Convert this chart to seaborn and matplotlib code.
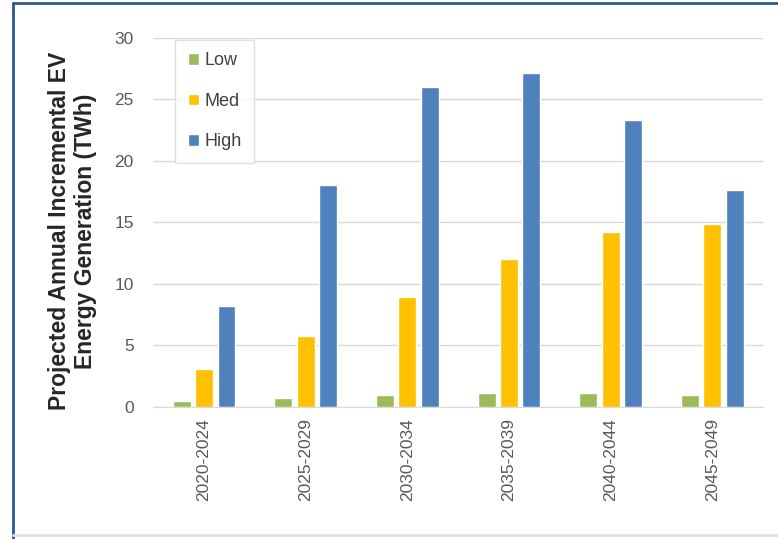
import pandas as pd
import matplotlib.pyplot as plt
import seaborn as sns
from matplotlib.lines import Line2D

# Data
periods = ['2020-2024', '2025-2029', '2030-2034', '2035-2039', '2040-2044', '2045-2049']
low = [0.5, 0.75, 1.0, 1.1, 1.1, 1.0]
med = [3.1, 5.8, 8.9, 12.0, 14.2, 14.9]
high = [8.2, 18.0, 26.0, 27.1, 23.3, 17.6]
scenarios = ['Low', 'Med', 'High']
colors = ['#9BBB59', '#FFC000', '#4F81BD']

df = pd.DataFrame({
    'Period': periods * 3,
    'Scenario': [s for s in scenarios for _ in periods],
    'TWh': low + med + high,
})

sns.set_style('white')
plt.rcParams['font.family'] = ['Liberation Sans', 'DejaVu Sans']

fig = plt.figure(figsize=(7.78, 5.39), dpi=100)
ax = fig.add_axes([0.197, 0.245, 0.784, 0.685])

sns.barplot(data=df, x='Period', y='TWh', hue='Scenario', palette=colors,
            width=0.66, gap=0.2, ax=ax, saturation=1)

ax.set_ylim(0, 30)
ax.set_yticks(range(0, 31, 5))
ax.yaxis.grid(True, color='#D9D9D9', linewidth=1)
ax.set_axisbelow(True)
for side in ['top', 'right', 'left']:
    ax.spines[side].set_visible(False)
ax.spines['bottom'].set_color('#D9D9D9')
ax.tick_params(axis='both', length=0, labelsize=12.5, labelcolor='#595959')
ax.tick_params(axis='x', rotation=90, pad=8)
ax.tick_params(axis='y', pad=14)
ax.set_xlabel('')
ax.set_ylabel('Projected Annual Incremental EV\nEnergy Generation (TWh)',
              fontsize=16.5, fontweight='bold', color='#262626',
              linespacing=1.2)
ax.yaxis.set_label_coords(-0.092, 0.477)

leg = ax.legend(loc='upper left', bbox_to_anchor=(0.036, 0.995), fontsize=13,
                frameon=True, fancybox=False, edgecolor='#D9D9D9',
                handlelength=0.6, handleheight=0.6, handletextpad=0.3,
                labelspacing=1.3, borderpad=0.7, borderaxespad=0)
for t in leg.get_texts():
    t.set_color('#404040')

# frame around the picture
fig.add_artist(Line2D([0.017, 0.017], [0.0, 0.995], color='#2F5597', lw=2))
fig.add_artist(Line2D([0.017, 1.0], [0.995, 0.995], color='#2F5597', lw=2))
fig.add_artist(Line2D([0.017, 1.0], [0.007, 0.007], color='#E0E0E0', lw=2))

fig.savefig('out.png', dpi=100)
